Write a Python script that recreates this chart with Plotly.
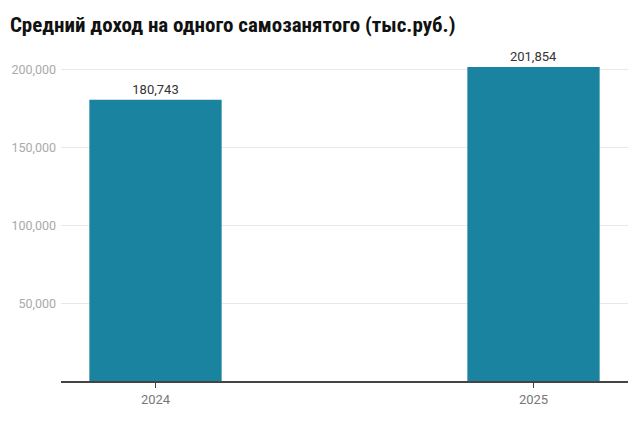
import plotly.graph_objects as go

# Data
years = ["2024", "2025"]
income = [180743, 201854]
y_ticks = [50000, 100000, 150000, 200000]

fig = go.Figure(
    go.Bar(
        x=years,
        y=income,
        width=0.35,
        marker=dict(color="#1a83a0", line=dict(width=0)),
        text=[f"{v:,}" for v in income],
        textposition="outside",
        textfont=dict(family="Roboto", size=13, color="#333333"),
        cliponaxis=False,
    )
)

fig.update_layout(
    width=640,
    height=433,
    paper_bgcolor="white",
    plot_bgcolor="white",
    margin=dict(l=53, r=20, t=51, b=60),
    showlegend=False,
    title=dict(
        text="<b>Средний доход на одного самозанятого (тыс.руб.)</b>",
        x=0.003,
        xanchor="left",
        y=0.961,
        yanchor="middle",
        font=dict(family="Roboto Condensed", size=21, color="#111111"),
    ),
    xaxis=dict(
        type="category",
        range=[-0.25, 1.25],
        showgrid=False,
        showline=True,
        linecolor="#444444",
        linewidth=2,
        ticks="outside",
        ticklen=5,
        tickcolor="#444444",
        tickfont=dict(family="Roboto", size=13, color="#777777"),
    ),
    yaxis=dict(
        range=[0, 207000],
        tickvals=y_ticks,
        tickformat=",d",
        automargin=False,
        showgrid=True,
        gridcolor="#e8e8e8",
        zeroline=False,
        showline=False,
        ticks="",
        ticklabelstandoff=4,
        tickfont=dict(family="Roboto", size=12.5, color="#aaaaaa"),
    ),
)

fig.write_html("out.html")
